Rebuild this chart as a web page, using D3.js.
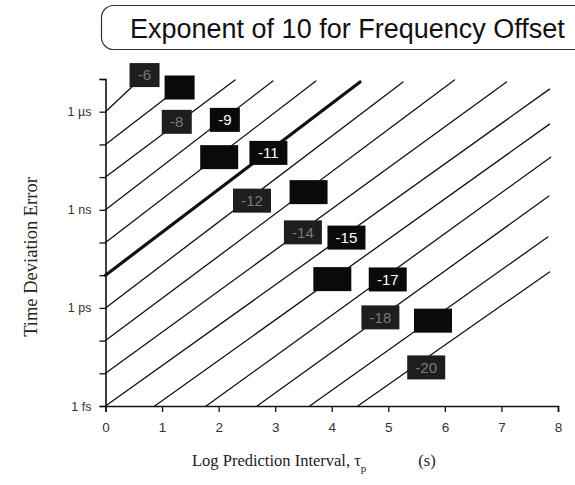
<!DOCTYPE html>
<html>
<head>
<meta charset="utf-8">
<script src="https://cdn.jsdelivr.net/npm/d3@7"></script>
<style>
  body { margin: 0; background: #fff; }
  svg { display: block; }
</style>
</head>
<body>
<div id="chart"></div>
<script>
//data (tau = log prediction interval, err = log10 of time error in s)
var exponents     = [-6, -7, -8, -9, -10, -11, -12, -13, -14, -15, -16, -17, -18, -19, -20];
var lineStartTau  = [0, 0, 0, 0, 0, 0, 0, 0, 0, 0, 0.87, 1.78, 2.68, 3.61, 4.46];
var lineStartErr  = [-6, -7, -8, -9, -10, -11, -12, -13, -14, -15, -15, -15, -15, -15, -15];
var lineEndTau    = [0.69, 1.31, 2.29, 2.96, 3.72, 4.50, 5.26, 6.17, 7.09, 7.85, 7.85, 7.87, 7.84, 7.82, 7.85];
var lineEndErr    = [-4.88, -5.26, -5.03, -5.06, -5.06, -5.09, -5.09, -5.03, -5.09, -5.31, -6.38, -7.39, -8.58, -9.83, -10.90];
var labelTau      = [0.69, 1.31, 1.26, 2.11, 2.01, 2.88, 2.59, 3.59, 3.49, 4.26, 4.01, 4.99, 4.86, 5.79, 5.67];
var labelErr      = [-4.88, -5.26, -6.31, -6.25, -7.39, -7.26, -8.72, -8.46, -9.69, -9.85, -11.12, -11.13, -12.29, -12.39, -13.82];
//how each label survived the print
var labelPrint    = ["faint", "blank", "faint", "clear", "blank", "clear", "faint", "blank", "faint", "clear", "blank", "clear", "faint", "blank", "faint"];
var boldExponent  = -11;

var xTicks = [0, 1, 2, 3, 4, 5, 6, 7, 8];
var yTicks = [-15, -14, -13, -12, -11, -10, -9, -8, -7, -6, -5];
var yTickLabels = {"-15": "1 fs", "-12": "1 ps", "-9": "1 ns", "-6": "1 \u00b5s"};

var W = 575, H = 485;
var margin = {top: 79, left: 105.5, right: 17, bottom: 79};
var width = W - margin.left - margin.right,
    height = H - margin.top - margin.bottom;

var svg = d3.select("#chart").append("svg")
    .attr("width", W)
    .attr("height", H);

//title box, runs off the right edge
svg.append("rect")
    .attr("x", 101.5).attr("y", 5.5)
    .attr("width", 520).attr("height", 44)
    .attr("rx", 12).attr("ry", 12)
    .attr("fill", "none")
    .attr("stroke", "#333")
    .attr("stroke-width", 1.2);

svg.append("text")
    .attr("x", 130).attr("y", 38)
    .attr("font-family", "Liberation Sans, Arial, Helvetica, sans-serif")
    .attr("font-size", 27)
    .attr("fill", "#111")
    .text("Exponent of 10 for Frequency Offset");

var g = svg.append("g")
    .attr("transform", "translate(" + margin.left + "," + margin.top + ")");

var x = d3.scaleLinear().domain([0, 8]).range([0, width]);
var y = d3.scaleLinear().domain([-15, -5]).range([height, 0]);

//axes
var xAxis = d3.axisBottom(x).tickValues(xTicks).tickSize(6).tickPadding(10);
var yAxis = d3.axisLeft(y).tickValues(yTicks).tickSize(6).tickPadding(8)
    .tickFormat(function(d) { return yTickLabels[d] || ""; });

var gx = g.append("g").attr("transform", "translate(0," + height + ")").call(xAxis);
var gy = g.append("g").call(yAxis);

[gx, gy].forEach(function(a) {
    a.select(".domain").attr("stroke", "#111").attr("stroke-width", 1.6);
    a.selectAll(".tick line").attr("stroke", "#111").attr("stroke-width", 1.3);
    a.selectAll("text")
        .attr("font-family", "Liberation Sans, Arial, Helvetica, sans-serif")
        .attr("fill", "#333");
});
gx.selectAll("text").attr("font-size", 13.5);
gy.selectAll("text").attr("font-size", 12.5);

//frequency offset lines
var lines = exponents.map(function(e, i) {
    return {e: e, x0: lineStartTau[i], y0: lineStartErr[i], x1: lineEndTau[i], y1: lineEndErr[i]};
});

g.selectAll(".offset")
    .data(lines)
  .enter().append("line")
    .attr("class", "offset")
    .attr("x1", d => x(d.x0)).attr("y1", d => y(d.y0))
    .attr("x2", d => x(d.x1)).attr("y2", d => y(d.y1))
    .attr("stroke", "#111")
    .attr("stroke-width", d => d.e === boldExponent ? 3.2 : 1.3)
    .attr("stroke-linecap", "round");

//label boxes sitting on the lines
var labels = exponents.map(function(e, i) {
    return {e: e, tau: labelTau[i], err: labelErr[i], print: labelPrint[i]};
});

var lab = g.selectAll(".lab")
    .data(labels)
  .enter().append("g")
    .attr("class", "lab")
    .attr("transform", d => "translate(" + x(d.tau) + "," + y(d.err) + ")");

lab.append("rect")
    .attr("x", d => String(d.e).length > 2 ? -19 : -15)
    .attr("y", -12)
    .attr("width", d => String(d.e).length > 2 ? 38 : 30)
    .attr("height", 24)
    .attr("fill", d => d.print === "faint" ? "#1e1e1e" : "#0a0a0a");

lab.append("text")
    .attr("text-anchor", "middle")
    .attr("dy", "0.36em")
    .attr("font-family", "Liberation Sans, Arial, Helvetica, sans-serif")
    .attr("font-size", 15)
    .attr("fill", d => d.print === "clear" ? "#fff" : d.print === "faint" ? "#7a7a7a" : "#0a0a0a")
    .text(d => d.e);

//axis titles
svg.append("text")
    .attr("transform", "translate(37,257) rotate(-90)")
    .attr("text-anchor", "middle")
    .attr("font-family", "Liberation Serif, Times New Roman, serif")
    .attr("font-size", 18.5)
    .attr("fill", "#222")
    .text("Time Deviation Error");

var xt = svg.append("text")
    .attr("x", 192).attr("y", 466)
    .attr("font-family", "Liberation Serif, Times New Roman, serif")
    .attr("font-size", 16.5)
    .attr("fill", "#222");
xt.append("tspan").text("Log Prediction Interval,  ");
xt.append("tspan").text("\u03c4");
xt.append("tspan").attr("font-size", 11).attr("dy", 6).text("p");
xt.append("tspan").attr("dy", -6).attr("dx", 52).text("(s)");
</script>
</body>
</html>
